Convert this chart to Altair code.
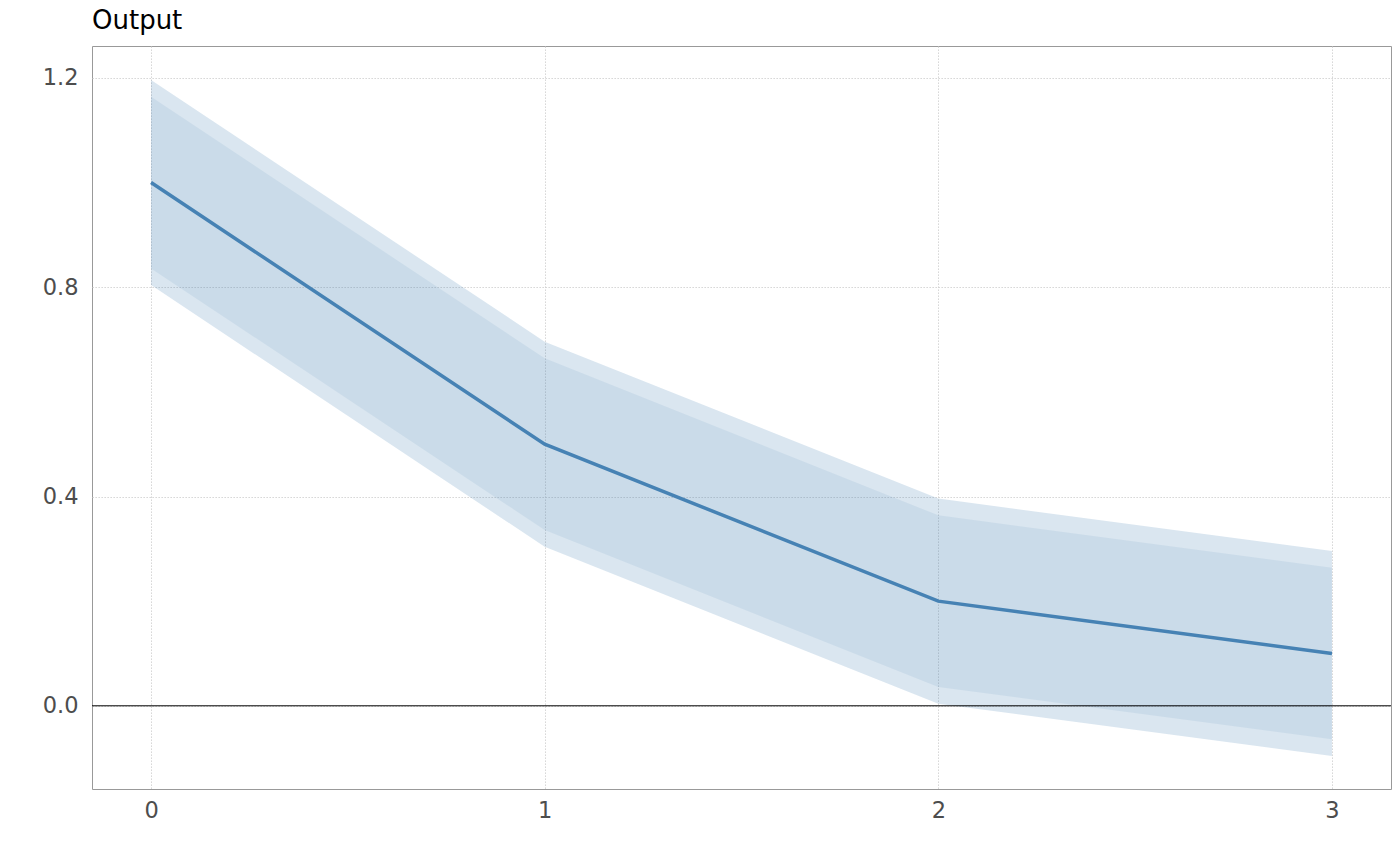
import altair as alt
import pandas as pd

horizon = [0, 1, 2, 3]
irf = [1.0, 0.5, 0.2, 0.1]
lo95 = [0.804, 0.304, 0.004, -0.096]
hi95 = [1.196, 0.696, 0.396, 0.296]
lo90 = [0.836, 0.336, 0.036, -0.064]
hi90 = [1.164, 0.664, 0.364, 0.264]
x_ticks = [0, 1, 2, 3]
y_ticks = [0.0, 0.4, 0.8, 1.2]

df = pd.DataFrame({"h": horizon, "irf": irf, "lo95": lo95, "hi95": hi95,
                   "lo90": lo90, "hi90": hi90})

xs = alt.Scale(domain=[-0.15, 3.15], nice=False, zero=False)
ys = alt.Scale(domain=[-0.159, 1.261], nice=False, zero=False)

xax = alt.Axis(values=x_ticks, title=None, ticks=False, domain=False, labelPadding=10,
               labelFontSize=22.5, labelColor="#4d4d4d", labelFont="DejaVu Sans",
               grid=True, gridColor="#cfcfcf", gridDash=[1.3, 1.7], gridWidth=1, format="d")
yax = alt.Axis(values=y_ticks, title=None, ticks=False, domain=False, labelPadding=14,
               labelFontSize=22.5, labelColor="#4d4d4d", labelFont="DejaVu Sans",
               grid=True, gridColor="#cfcfcf", gridDash=[1.3, 1.7], gridWidth=1, format=".1f")

base = alt.Chart(df)

outer = base.mark_area(color="#4682b4", opacity=0.2).encode(
    x=alt.X("h:Q", scale=xs, axis=xax),
    y=alt.Y("lo95:Q", scale=ys, axis=yax),
    y2="hi95:Q",
)
inner = base.mark_area(color="#4682b4", opacity=0.1).encode(
    x=alt.X("h:Q", scale=xs), y=alt.Y("lo90:Q", scale=ys), y2="hi90:Q"
)
zero = alt.Chart(pd.DataFrame({"z": [0.0]})).mark_rule(color="black", strokeWidth=1).encode(
    y=alt.Y("z:Q", scale=ys)
)
line = base.mark_line(color="#4682b4", strokeWidth=3.5).encode(
    x=alt.X("h:Q", scale=xs), y=alt.Y("irf:Q", scale=ys)
)

chart = alt.layer(outer, inner, zero, line).properties(
    width=1299, height=743,
    title=alt.TitleParams("Output", anchor="start", frame="group", fontSize=26,
                          font="DejaVu Sans", fontWeight="normal", color="black", offset=12),
    autosize=alt.AutoSizeParams(type="none"),
    padding={"left": 84, "top": 38, "right": 1, "bottom": 60},
    background="white",
).configure_view(stroke="#999999", strokeWidth=1)

chart.save("out.html", embed_options={"renderer": "svg", "actions": False})
